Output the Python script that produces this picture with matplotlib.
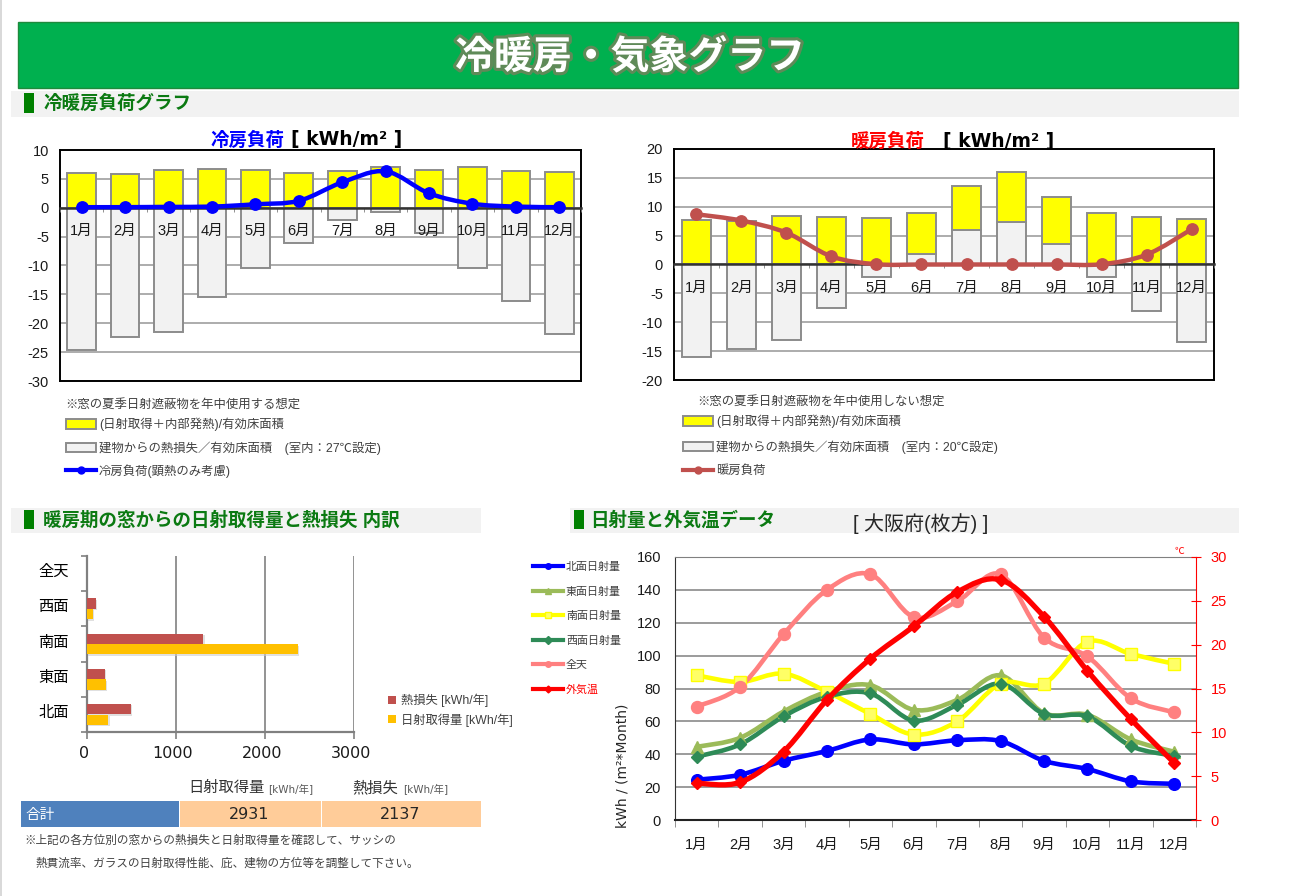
import matplotlib
matplotlib.use("Agg")
import matplotlib.pyplot as plt
import matplotlib.patheffects as pe
from matplotlib.lines import Line2D
from matplotlib.patches import Rectangle, PathPatch, Patch
from matplotlib.path import Path
from matplotlib.transforms import ScaledTranslation

plt.rcParams['font.family'] = ['Liberation Sans', 'Noto Sans CJK JP', 'DejaVu Sans']
plt.rcParams['axes.unicode_minus'] = False

W, H = 1290, 896
months = ['1月', '2月', '3月', '4月', '5月', '6月', '7月', '8月', '9月', '10月', '11月', '12月']

cool_gain = [6.1, 5.9, 6.6, 6.7, 6.6, 6.0, 6.4, 7.0, 6.5, 7.0, 6.4, 6.2]
cool_loss = [-24.6, -22.4, -21.6, -15.5, -10.5, -6.1, -2.2, -0.8, -4.4, -10.5, -16.1, -21.9]
cool_load = [0.1, 0.1, 0.15, 0.2, 0.6, 1.2, 4.4, 6.3, 2.5, 0.7, 0.2, 0.1]

heat_gain = [7.7, 7.5, 8.4, 8.2, 8.0, 7.0, 7.6, 8.6, 8.1, 9.0, 8.2, 7.9]
heat_loss_pos = [0, 0, 0, 0, 0, 1.9, 6.0, 7.4, 3.6, 0, 0, 0]
heat_loss_neg = [-16.1, -14.7, -13.1, -7.5, -2.2, 0, 0, 0, 0, -2.2, -8.0, -13.4]
heat_load = [8.7, 7.6, 5.5, 1.4, 0.05, 0, 0, 0, 0, 0.05, 1.7, 6.1]

faces = ['北面', '東面', '南面', '西面', '全天']
face_loss = [490, 200, 1310, 97, 0]
face_gain = [240, 215, 2370, 62, 0]
total_gain = '2931'
total_loss = '2137'

sol_north = [24.5, 27.5, 36, 42, 49, 46, 48.5, 48, 36, 31, 23.5, 22]
sol_east = [44.5, 50, 66, 78, 82, 67, 73, 88, 65, 64, 49, 41.5]
sol_south = [88, 84, 89, 78, 64.5, 52, 60, 83, 83, 108.5, 101, 95]
sol_west = [38.5, 46, 63, 75, 77, 60.5, 70, 83, 64.5, 63, 45, 39]
sol_all = [69, 81, 113, 140, 149.5, 123.5, 133, 149.5, 111, 99.5, 74, 65.5]
temp = [4.2, 4.3, 7.8, 13.7, 18.4, 22.1, 26, 27.4, 23.2, 17, 11.5, 6.5]

WIDE = ['DejaVu Sans', 'Noto Sans CJK JP']

fig = plt.figure(figsize=(W / 100, H / 100), dpi=100, facecolor='white')


def fx(x):
    return x / W


def fy(y):
    return 1 - y / H


def new_axes(x0, y0, x1, y1):
    return fig.add_axes([fx(x0), fy(y1), (x1 - x0) / W, (y1 - y0) / H])


def rect(x0, y0, x1, y1, color, edge='none', lw=0):
    fig.add_artist(Rectangle((fx(x0), fy(y1)), (x1 - x0) / W, (y1 - y0) / H, transform=fig.transFigure,
                             facecolor=color, edgecolor=edge, linewidth=lw))


def text(x, y, s, size, color='black', weight='normal', ha='left', **kw):
    return fig.text(fx(x), fy(y), s, fontsize=size, color=color, fontweight=weight, ha=ha, va='center', **kw)


def smooth(ax, xs, ys, color, lw, zorder=4):
    """Smooth line through the values, as a Bezier path."""
    n = len(xs)
    verts = [(xs[0], ys[0])]
    codes = [Path.MOVETO]
    for i in range(n - 1):
        p0 = (xs[max(i - 1, 0)], ys[max(i - 1, 0)])
        p1 = (xs[i], ys[i])
        p2 = (xs[i + 1], ys[i + 1])
        p3 = (xs[min(i + 2, n - 1)], ys[min(i + 2, n - 1)])
        c1 = (p1[0] + (p2[0] - p0[0]) / 6, p1[1] + (p2[1] - p0[1]) / 6)
        c2 = (p2[0] - (p3[0] - p1[0]) / 6, p2[1] - (p3[1] - p1[1]) / 6)
        verts += [c1, c2, p2]
        codes += [Path.CURVE4] * 3
    ax.add_patch(PathPatch(Path(verts, codes), facecolor='none', edgecolor=color, linewidth=lw,
                           zorder=zorder, capstyle='round', joinstyle='round'))


def place_legend(ax, x, y, handles, labels, size, spacing_px, handle_px=30, pad_px=3, label_colors=None,
                 handle_h=None):
    kw = {}
    if handle_h:
        kw['handleheight'] = handle_h / (size * 1.39)
    lg = ax.legend(handles, labels, loc='upper left', bbox_to_anchor=(fx(x), fy(y)), bbox_transform=fig.transFigure,
                   frameon=False, fontsize=size, borderpad=0, borderaxespad=0,
                   labelspacing=(spacing_px - size * 1.39) / (size * 1.39),
                   handlelength=handle_px / (size * 1.39), handletextpad=pad_px / (size * 1.39), **kw)
    for i, t in enumerate(lg.get_texts()):
        t.set_color(label_colors[i] if label_colors else '#404040')
    return lg


# page furniture
rect(0, 0, 1.5, 896, '#D9D9D9')
rect(18, 22, 1238, 88, '#00B04F', edge='#1E8A3C', lw=1)
text(630, 58, '冷暖房・気象グラフ', 28, 'white', 'bold', ha='center',
     path_effects=[pe.withStroke(linewidth=4.5, foreground='#5F8A58')])
for x0, y0, x1, y1 in [(11, 91, 1239, 117), (11, 508, 481, 533), (570, 508, 1239, 533)]:
    rect(x0, y0, x1, y1, '#F2F2F2')
for x0, y0, x1, y1 in [(24, 93, 34, 113), (24, 510, 34, 529), (574, 510, 584, 529)]:
    rect(x0, y0, x1, y1, '#008000')
text(43, 104, '冷暖房負荷グラフ', 13.3, '#0B7A12', 'bold')
text(43, 521, '暖房期の窓からの日射取得量と熱損失 内訳', 13.3, '#0B7A12', 'bold')
text(590, 521, '日射量と外気温データ', 13.3, '#0B7A12', 'bold')
text(853, 524, '[ 大阪府(枚方) ]', 14.4, '#262626')

text(210, 141, '冷房負荷', 13.3, '#0000FF', 'bold')
text(291, 140, '[ kWh/m² ]', 13.5, 'black', 'bold', family=WIDE)
text(851, 142, '暖房負荷', 13.3, '#FF0000', 'bold')
text(943, 141, '[ kWh/m² ]', 13.5, 'black', 'bold', family=WIDE)
text(65, 405, '※窓の夏季日射遮蔽物を年中使用する想定', 8.9, '#404040')
text(697, 402, '※窓の夏季日射遮蔽物を年中使用しない想定', 8.9, '#404040')


def load_chart(box, ylim, yticks, zero_frac, gain, loss_neg, loss_pos, load, line_color):
    ax = new_axes(*box)
    x = list(range(12))
    ax.set_xlim(-0.5, 11.5)
    ax.set_ylim(*ylim)
    ax.set_yticks(yticks)
    ax.tick_params(axis='y', length=0, labelsize=10.5, pad=8, colors='#1A1A1A')
    ax.set_xticks([])
    ax.grid(axis='y', color='#A6A6A6', linewidth=1.3, zorder=1)
    ax.set_axisbelow(True)
    for s in ax.spines.values():
        s.set_linewidth(1.4)
        s.set_color('black')
    bar_kw = dict(width=0.66, edgecolor='#8C8C8C', linewidth=1.4, zorder=2)
    ax.bar(x, loss_pos, color='#F2F2F2', **bar_kw)
    ax.bar(x, gain, bottom=loss_pos, color='#FFFF00', **bar_kw)
    ax.bar(x, loss_neg, color='#F2F2F2', **bar_kw)
    sec = ax.secondary_xaxis(zero_frac)
    sec.set_alignment('bottom')
    sec.set_zorder(2.5)
    sec.set_xticks(x)
    sec.set_xticklabels(months, fontsize=10.5, color='#1A1A1A')
    sec.set_xticks([i + 0.5 for i in range(-1, 12)], minor=True)
    sec.tick_params(axis='x', which='major', length=0, pad=12)
    sec.tick_params(axis='x', which='minor', length=3, color='#808080')
    sec.spines['bottom'].set_linewidth(1.8)
    sec.spines['bottom'].set_color('#333333')
    smooth(ax, x, load, line_color, 3.2)
    ax.plot(x, load, linestyle='none', marker='o', markersize=8.2, color=line_color, zorder=5)
    return ax


ax1 = load_chart((60, 150, 581, 381), (-30, 10), list(range(-30, 11, 5)), 0.75,
                 cool_gain, cool_loss, [0] * 12, cool_load, '#0000FF')
ax2 = load_chart((674, 149, 1214, 380), (-20, 20), list(range(-20, 21, 5)), 0.5,
                 heat_gain, heat_loss_neg, heat_loss_pos, heat_load, '#C0504D')


def load_legend(ax, x, y, room, line_color, line_label, spacing):
    handles = [Patch(facecolor='#FFFF00', edgecolor='#8C8C8C', linewidth=1.4),
               Patch(facecolor='#F2F2F2', edgecolor='#8C8C8C', linewidth=1.4),
               Line2D([], [], color=line_color, lw=3, marker='o', markersize=5)]
    labels = ['(日射取得＋内部発熱)/有効床面積',
              f'建物からの熱損失／有効床面積　(室内：{room}℃設定)', line_label]
    place_legend(ax, x, y, handles, labels, 8.9, spacing, handle_h=10)


load_legend(ax1, 66, 418, 27, '#0000FF', '冷房負荷(顕熱のみ考慮)', 22)
load_legend(ax2, 683, 415, 20, '#C0504D', '暖房負荷', 24)

# window gain / loss
ax3 = new_axes(87, 556, 353.5, 732)
yy = list(range(5))
ax3.set_xlim(0, 3000)
ax3.set_ylim(-0.5, 4.5)
shadow = [pe.SimplePatchShadow(offset=(1, -1), shadow_rgbFace='#CCCCCC', alpha=0.6), pe.Normal()]
ax3.barh([i + 0.15 for i in yy], face_loss, height=0.29, color='#C0504D', zorder=3, path_effects=shadow)
ax3.barh([i - 0.15 for i in yy], face_gain, height=0.29, color='#FFC000', zorder=3, path_effects=shadow)
ax3.set_xticks([0, 1000, 2000, 3000])
ax3.set_yticks(yy)
ax3.set_yticklabels(faces, fontsize=11)
ax3.set_yticks([i - 0.5 for i in range(6)], minor=True)
ax3.tick_params(axis='y', which='major', length=0, pad=13)
ax3.tick_params(axis='y', which='minor', length=4, color='#808080', width=1.2)
ax3.tick_params(axis='x', length=5, color='#808080', width=1.2, labelsize=11.5, pad=5, labelcolor='#1A1A1A')
for lab in ax3.get_xticklabels():
    lab.set_fontfamily(WIDE)
    lab.set_transform(lab.get_transform() + ScaledTranslation(-0.03, 0, fig.dpi_scale_trans))
for lab in ax3.get_yticklabels():
    lab.set_transform(lab.get_transform() + ScaledTranslation(0, 0.03, fig.dpi_scale_trans))
ax3.grid(axis='x', color='#808080', linewidth=1.2, zorder=1)
ax3.set_axisbelow(True)
for side in ['top', 'right']:
    ax3.spines[side].set_visible(False)
for side in ['left', 'bottom']:
    ax3.spines[side].set_color('#808080')
    ax3.spines[side].set_linewidth(1.6)
place_legend(ax3, 388, 694, [Patch(facecolor='#C0504D'), Patch(facecolor='#FFC000')],
             ['熱損失 [kWh/年]', '日射取得量 [kWh/年]'], 8.85, 18, handle_px=8, pad_px=5, handle_h=8)

text(188, 788, '日射取得量', 11, '#333333')
text(268, 790, '[kWh/年]', 7.5, '#595959', family=WIDE)
text(352, 788, '熱損失', 11, '#333333')
text(403, 790, '[kWh/年]', 7.5, '#595959', family=WIDE)
rect(21, 801, 179, 827, '#4F81BD')
rect(180, 801, 321, 827, '#FFCC99')
rect(322, 801, 481, 827, '#FFCC99')
text(25, 815, '合計', 10.5, 'white')
text(249, 814, total_gain, 11.5, '#262626', ha='center', family=WIDE)
text(400, 814, total_loss, 11.5, '#262626', ha='center', family=WIDE)
text(24, 841, '※上記の各方位別の窓からの熱損失と日射取得量を確認して、サッシの', 8.35, '#404040')
text(36, 864, '熱貫流率、ガラスの日射取得性能、庇、建物の方位等を調整して下さい。', 8.35, '#404040')

# solar / temperature
ax4 = new_axes(675, 557, 1196, 820)
x = list(range(12))
ax4.set_xlim(-0.5, 11.5)
ax4.set_ylim(0, 160)
ax4.set_yticks(range(0, 161, 20))
ax4.tick_params(axis='y', length=0, labelsize=10.5, pad=10, colors='#1A1A1A')
ax4.grid(axis='y', color='#808080', linewidth=1.1, zorder=1)
ax4.set_axisbelow(True)
ax4.set_xticks(x)
ax4.set_xticklabels(months, fontsize=10.5, color='#1A1A1A')
ax4.set_xticks([i + 0.5 for i in range(-1, 12)], minor=True)
ax4.tick_params(axis='x', which='major', length=0, pad=13)
ax4.tick_params(axis='x', which='minor', length=5, color='#808080')
ax4.set_ylabel('kWh / (m²*Month)', fontsize=10, color='#262626', y=0.205, labelpad=5, family=WIDE)
ax4.spines['right'].set_visible(False)
ax4.spines['top'].set_color('#808080')
ax4.spines['left'].set_color('#333333')
ax4.spines['bottom'].set_color('#222222')
ax4.spines['bottom'].set_linewidth(1.5)

series = [
    (sol_north, '#0000FF', 'o', 8.4, '#0000FF', '北面日射量'),
    (sol_east, '#9BBB59', '^', 8.5, '#9BBB59', '東面日射量'),
    (sol_south, '#FFFF00', 's', 8.6, '#FFFF66', '南面日射量'),
    (sol_west, '#2E8B57', 'D', 6.2, '#2E8B57', '西面日射量'),
    (sol_all, '#FF8080', 'o', 8.6, '#FF8080', '全天'),
]
handles = []
for vals, col, mk, ms, face, lab in series:
    smooth(ax4, x, vals, col, 3.3)
    ax4.plot(x, vals, linestyle='none', marker=mk, markersize=ms, markerfacecolor=face,
             markeredgecolor=col, zorder=5)
    handles.append(Line2D([], [], color=col, lw=3, marker=mk, markersize=4, markerfacecolor=face))

ax4r = ax4.twinx()
ax4r.set_ylim(0, 30)
ax4r.set_yticks(range(0, 31, 5))
ax4r.tick_params(axis='y', direction='inout', length=7, color='#FF0000', labelcolor='#FF0000', labelsize=10.5, pad=7)
for side in ['top', 'left', 'bottom']:
    ax4r.spines[side].set_visible(False)
ax4r.spines['right'].set_color('#FF0000')
smooth(ax4r, x, temp, '#FF0000', 3.8)
ax4r.plot(x, temp, linestyle='none', marker='D', markersize=6, color='#FF0000', zorder=6)
handles.append(Line2D([], [], color='#FF0000', lw=3, marker='D', markersize=3.5))
text(1179, 551, '℃', 7, '#FF0000', ha='center')
place_legend(ax4r, 533, 562, handles, [s[5] for s in series] + ['外気温'], 7.9, 25.4,
             label_colors=['#404040'] * 5 + ['#FF0000'])

fig.savefig('out.png', dpi=100)
